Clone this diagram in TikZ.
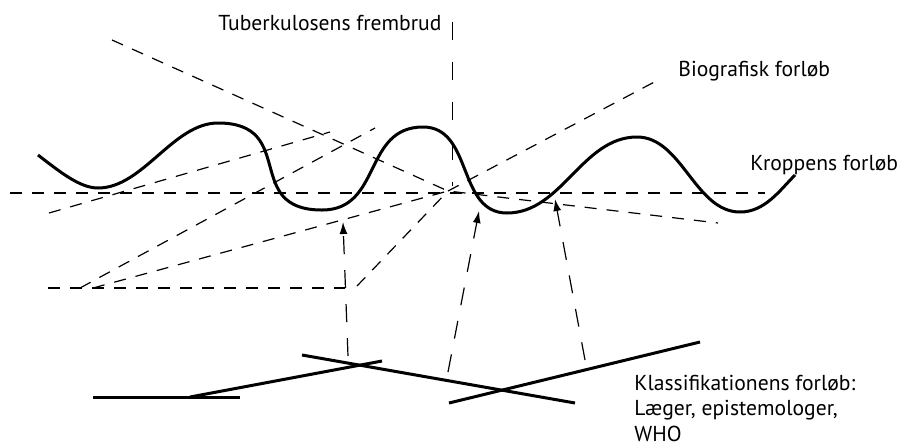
\documentclass[tikz,border=0pt]{standalone}
\usepackage{fontspec}
\setmainfont{PT Sans}
\usetikzlibrary{arrows.meta}

\begin{document}
\begin{tikzpicture}[x=0.5pt,y=-0.5pt,
    guide/.style={line width=0.6pt,dash pattern=on 6pt off 5pt},
    pointer/.style={line width=0.6pt,dash pattern=on 9pt off 8pt,-{Latex[length=6pt,width=4pt]}},
    course/.style={line width=1.5pt},
    label/.style={inner sep=0pt,font=\fontsize{10.8}{12.6}\selectfont}]
  \useasboundingbox (0,0) rectangle (898,446);

  % labels
  \node[label,anchor=base west] (tb) at (218,30) {Tuberkulosens frembrud};
  \node[label,anchor=base west] (bio) at (678,76) {Biografisk forløb};
  \node[label,anchor=base west] (krop) at (750,170) {Kroppens forløb};
  \node[label,anchor=north west,align=left] (klas) at (634,375)
    {Klassifikationens forløb:\\Læger, epistemologer,\\WHO};

  % end points of the guide lines
  \coordinate (c) at (448,191);
  \coordinate (tl) at (112,40);
  \coordinate (br) at (660,79);
  \coordinate (rr) at (718,223);
  \coordinate (vt) at (452,22);
  \coordinate (vb) at (452,186);
  \coordinate (hl) at (10,193);
  \coordinate (hr) at (765,193);
  \coordinate (bl) at (48,288);
  \coordinate (bc) at (345,288);
  \coordinate (b1) at (80,288);
  \coordinate (b2) at (93,288);
  \coordinate (b3) at (357,286);
  \coordinate (u1) at (375,128);
  \coordinate (l1) at (49,213);
  \coordinate (u2) at (330,132);

  \draw[guide] (tl) -- (c) -- (rr);
  \draw[guide] (c) -- (br);
  \draw[guide] (hl) -- (hr);
  \draw[line width=0.5pt,dash pattern=on 9pt off 11pt] (vt) -- (vb);
  \draw[guide] (bl) -- (bc);
  \draw[guide] (b1) -- (u1);
  \draw[guide] (b2) -- (c);
  \draw[guide] (b3) -- (c);
  \draw[guide] (l1) -- (u2);

  % the body curve
  \draw[course] (38,155) .. controls (60,172) and (80,188) .. (98,188)
    .. controls (143,188) and (173,123) .. (218,123)
    .. controls (298,123) and (242,210) .. (322,210)
    .. controls (382,210) and (363,127) .. (423,127)
    .. controls (473,127) and (457,213) .. (507,213)
    .. controls (562,213) and (582,137) .. (637,137)
    .. controls (682,137) and (695,212) .. (740,212)
    .. controls (765,212) and (780,190) .. (795,175);

  % classification lines
  \coordinate (s1a) at (93,397);
  \coordinate (s1b) at (240,397);
  \coordinate (s2a) at (190,397);
  \coordinate (s2b) at (382,361);
  \coordinate (s3a) at (302,355);
  \coordinate (s3b) at (575,403);
  \coordinate (s4a) at (449,403);
  \coordinate (s4b) at (700,342);
  \draw[course] (s1a) -- (s1b);
  \draw[course] (s2a) -- (s2b);
  \draw[course] (s3a) -- (s3b);
  \draw[course] (s4a) -- (s4b);

  % pointers up to the body curve
  \coordinate (p1) at (348,356);
  \coordinate (t1) at (343,222);
  \coordinate (p2) at (448,372);
  \coordinate (t2) at (479,211);
  \coordinate (p3) at (585,360);
  \coordinate (t3) at (555,199);
  \draw[pointer] (p1) -- (t1);
  \draw[pointer] (p2) -- (t2);
  \draw[pointer] (p3) -- (t3);
\end{tikzpicture}
\end{document}
